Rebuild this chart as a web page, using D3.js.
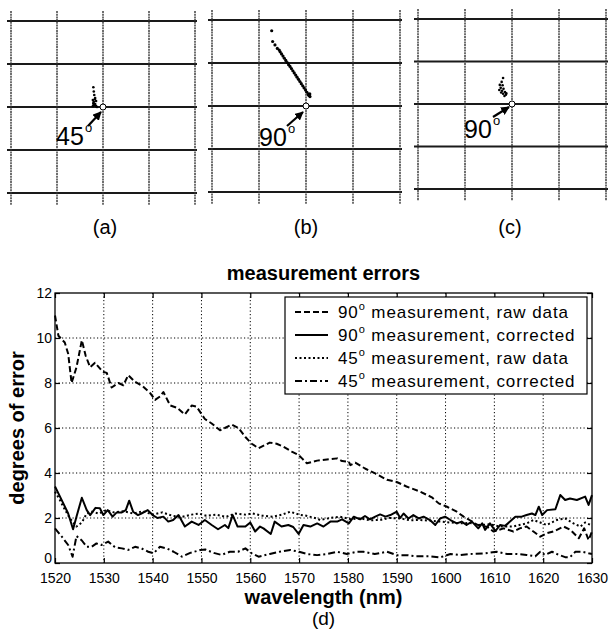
<!DOCTYPE html>
<html><head><meta charset="utf-8">
<script src="https://cdn.jsdelivr.net/npm/d3@7"></script>
<style>
body{margin:0;background:#fff}
svg{display:block}
text{font-family:"Liberation Sans",Arial,Helvetica,sans-serif;fill:#000}
</style>
</head><body>
<svg id="chart" width="611" height="630"></svg>
<script>
// ---------- data ----------
const xTicks = [1520,1530,1540,1550,1560,1570,1580,1590,1600,1610,1620,1630];
const yTicks = [0,2,4,6,8,10,12];

const raw90 = [[1520,11.0],[1520.7,10.1],[1522,9.8],[1522.7,9.3],[1523.4,8.0],[1524.4,8.7],[1525.5,9.9],[1526.3,9.2],[1527.2,8.7],[1528.2,8.9],[1529.8,8.5],[1530.6,8.45],[1531.6,7.8],[1533,8.0],[1534,7.9],[1535,8.35],[1536.4,8.05],[1538,7.85],[1539.5,7.55],[1540.5,7.25],[1541.5,7.4],[1542.2,7.6],[1543.6,7.0],[1545,6.9],[1546.6,6.6],[1548,7.0],[1549,6.95],[1550.7,6.4],[1552.1,6.2],[1553.8,5.9],[1554.8,6.0],[1556.2,6.15],[1557.6,6.0],[1559,5.6],[1560.3,5.3],[1561.7,5.1],[1564,5.35],[1565.4,5.3],[1566.8,5.17],[1568.5,4.95],[1569.9,4.8],[1570.6,4.65],[1571.6,4.43],[1573.7,4.55],[1575.7,4.6],[1577.8,4.65],[1578.8,4.53],[1580.2,4.5],[1580.5,4.35],[1581.5,4.46],[1583.5,4.2],[1585.6,3.98],[1588,3.7],[1590,3.6],[1592,3.4],[1594.8,3.17],[1597.2,2.92],[1598.6,2.65],[1600.3,2.5],[1602.3,2.28],[1603.7,2.06],[1605,1.9],[1606.5,1.7],[1608.6,1.6],[1609.8,1.4],[1611.9,1.54],[1613.9,1.4],[1615.2,1.54],[1616.6,1.62],[1618,1.4],[1619.4,1.17],[1620.7,1.32],[1622.1,1.4],[1624.2,1.62],[1625.6,1.47],[1627.3,1.1],[1628.4,1.54],[1629.3,1.02],[1630,1.4]];

const corr90 = [[1520,3.4],[1521.7,2.65],[1522.7,2.2],[1523.7,1.5],[1524.4,2.06],[1525.5,2.9],[1526.5,2.35],[1527.2,2.13],[1528.3,2.45],[1529.2,2.43],[1529.9,2.13],[1530.8,2.35],[1531.8,2.06],[1532.6,2.24],[1533.6,2.24],[1534.5,2.35],[1535.2,2.77],[1536,2.28],[1537,2.13],[1537.7,2.2],[1539,2.35],[1540,2.13],[1541,2.0],[1542.2,2.06],[1543.2,1.84],[1544.2,1.91],[1545.3,2.13],[1546.6,1.62],[1548,1.84],[1549.4,1.69],[1550.7,1.91],[1552.1,1.69],[1553.4,1.5],[1554.8,1.69],[1555.5,1.55],[1556.4,2.13],[1557.4,1.62],[1559,1.62],[1560,1.8],[1561,1.4],[1562,1.62],[1562.7,1.54],[1564.2,1.29],[1565,1.84],[1566.4,1.62],[1567.8,1.69],[1568.8,1.6],[1569.9,1.29],[1570.9,1.69],[1572.3,1.62],[1573.7,1.76],[1575,1.62],[1576.4,1.84],[1577.8,1.84],[1578.8,1.94],[1580.2,1.76],[1581.2,2.06],[1582.5,1.94],[1583.5,2.09],[1584.5,1.94],[1585.6,2.06],[1586.6,2.16],[1587.7,2.06],[1588.7,2.13],[1590,2.28],[1590.7,2.0],[1591.4,2.2],[1592.4,1.98],[1593.4,2.13],[1594.5,1.98],[1595.5,2.06],[1596.8,1.91],[1597.9,1.69],[1598.9,1.98],[1599.9,2.06],[1601,1.91],[1602.3,1.76],[1603.3,1.84],[1604.3,1.69],[1605.4,1.84],[1606.7,1.54],[1607.5,1.76],[1608.1,1.47],[1609.1,1.76],[1610.2,1.42],[1611.2,1.69],[1612.2,1.65],[1613.2,1.84],[1614.3,2.06],[1615.6,2.06],[1616.6,2.13],[1617.7,2.2],[1618.4,2.13],[1619.1,2.5],[1619.8,2.13],[1620.8,2.35],[1622.5,2.39],[1623.5,3.02],[1624.5,2.8],[1625.5,2.87],[1626.9,2.8],[1628.6,2.95],[1629.3,2.58],[1630,3.02]];

const raw45 = [[1520,3.17],[1521,2.8],[1521.7,2.5],[1523,2.0],[1524.4,1.62],[1525.5,1.8],[1526.5,2.2],[1527.5,2.28],[1529,2.2],[1530.5,2.35],[1532,2.25],[1534,2.3],[1536,2.2],[1538,2.3],[1540,2.15],[1542,2.25],[1544,2.1],[1546,2.05],[1548,2.15],[1549.5,2.2],[1551,2.1],[1553,2.15],[1555,2.05],[1557,2.2],[1559,2.15],[1560.5,2.2],[1562.5,2.1],[1564.6,2.06],[1566.5,2.15],[1568.2,2.28],[1570,2.15],[1571.5,2.1],[1573.6,1.98],[1574.3,1.91],[1576.3,2.0],[1578.4,2.06],[1580.5,1.95],[1582.5,1.98],[1584.5,1.9],[1586.6,1.91],[1588.5,2.0],[1590.7,1.98],[1592.7,1.9],[1594.8,1.91],[1597,1.88],[1598.9,1.84],[1601,1.8],[1603,1.76],[1605,1.78],[1607.1,1.69],[1609,1.72],[1611.2,1.62],[1613.9,1.62],[1615.3,1.7],[1616.6,1.76],[1618,1.91],[1619.4,1.8],[1620.7,1.69],[1622.8,1.91],[1624.5,1.98],[1626.2,1.76],[1627.6,1.62],[1628.6,1.8],[1629.6,1.7],[1630,1.75]];

const corr45 = [[1520,1.54],[1521.4,1.17],[1522.7,0.8],[1523.6,0.28],[1524.4,1.2],[1525.5,1.0],[1526.5,0.72],[1527.5,0.72],[1528.5,0.87],[1529.5,0.8],[1530.9,0.95],[1532.3,0.7],[1533.7,0.65],[1535,0.58],[1536.4,0.72],[1537.7,0.65],[1539.1,0.5],[1540.2,0.43],[1541.5,0.72],[1542.9,0.65],[1544.3,0.5],[1546,0.28],[1547.7,0.45],[1549.8,0.58],[1550.8,0.6],[1552.5,0.45],[1554.1,0.36],[1555.8,0.5],[1557.5,0.5],[1559,0.65],[1560.3,0.43],[1561.7,0.28],[1564,0.4],[1566,0.5],[1568.2,0.58],[1570,0.5],[1571.6,0.4],[1573.7,0.35],[1575.7,0.4],[1577.8,0.5],[1579.8,0.4],[1581.8,0.5],[1583.2,0.5],[1585.5,0.4],[1588,0.5],[1590,0.35],[1592,0.35],[1594,0.3],[1596.8,0.3],[1598.9,0.25],[1601,0.4],[1603,0.35],[1605,0.4],[1608,0.43],[1610.5,0.5],[1612.6,0.4],[1614.6,0.4],[1616.6,0.36],[1618.4,0.3],[1619.4,0.5],[1620.4,0.36],[1621.8,0.5],[1623.2,0.36],[1624.5,0.26],[1625.5,0.26],[1626.6,0.5],[1628,0.5],[1629.3,0.43],[1630,0.4]];

const legendDeg = ["90","90","45","45"];
const legendText = [" measurement, raw data"," measurement, corrected"," measurement, raw data"," measurement, corrected"];

// scatter points of panels (a),(b),(c) in grid-cell units, origin at the open circle, y up
const ptsA = [[-0.21,0.46],[-0.2,0.36],[-0.19,0.28],[-0.22,0.16],[-0.17,0.21],[-0.2,0.12],[-0.15,0.14],[-0.21,0.09],[-0.17,0.07],[-0.15,0.02],[-0.22,0.02],[-0.19,0.04],[-0.13,0.0],[-0.18,0.18],[-0.2,0.06]];
const ptsB = [[-0.73,1.75],[-0.71,1.5],[-0.66,1.42],[-0.61,1.34],[-0.55,1.26],[-0.52,1.21],[-0.49,1.16],[-0.46,1.11],[-0.43,1.06],[-0.40,1.01],[-0.37,0.96],[-0.34,0.92],[-0.31,0.87],[-0.28,0.82],[-0.25,0.77],[-0.22,0.72],[-0.19,0.67],[-0.16,0.62],[-0.13,0.57],[-0.10,0.52],[-0.07,0.47],[-0.04,0.42],[-0.01,0.37],[0.02,0.32],[0.05,0.27],[0.07,0.24],[0.085,0.22],[0.06,0.25],[0.08,0.28],[-0.57,1.3]];
const ptsC = [[-0.19,0.61],[-0.22,0.52],[-0.26,0.45],[-0.2,0.44],[-0.24,0.38],[-0.18,0.36],[-0.27,0.33],[-0.21,0.31],[-0.15,0.28],[-0.19,0.24],[-0.13,0.22],[-0.16,0.19],[-0.23,0.27],[-0.12,0.25]];
const panelLabels = ["(a)","(b)","(c)"];
const panelAngles = ["45","90","90"];
const gridUnits = [-2,-1,0,1,2];

// ---------- drawing ----------
const svg = d3.select("#chart");

// top panels
const panels = [
  {pts:ptsA, cx:103, cy:107, cw:46, ch:43, lab:[105,234], txt:[-47,38], arr:[[-15,19],[-2,5]], r:1.3},
  {pts:ptsB, cx:306, cy:106, cw:47, ch:43, lab:[306,234], txt:[-47,40], arr:[[-19,20],[-3,6]], r:1.6},
  {pts:ptsC, cx:512, cy:104, cw:47, ch:42.5, lab:[510,234], txt:[-48,34], arr:[[-19,13],[-3,3]], r:1.3}
];
const defs = svg.append("defs");
defs.append("marker").attr("id","ah").attr("viewBox","0 0 10 10").attr("refX",9).attr("refY",5)
  .attr("markerWidth",4).attr("markerHeight",4).attr("orient","auto")
  .append("path").attr("d","M0,0L10,5L0,10z").attr("fill","#000");

panels.forEach((p,i)=>{
  const sx = d3.scaleLinear([-1,1],[p.cx-p.cw,p.cx+p.cw]);
  const sy = d3.scaleLinear([-1,1],[p.cy+p.ch,p.cy-p.ch]);
  const g = svg.append("g");
  g.selectAll("line.h").data(gridUnits).join("line")
    .attr("x1",sx(-2)-4).attr("x2",sx(2)+2).attr("y1",d=>sy(d)).attr("y2",d=>sy(d))
    .attr("stroke","#1a1a1a").attr("stroke-width",1.8);
  g.selectAll("line.v").data(gridUnits).join("line")
    .attr("y1",sy(2)-10).attr("y2",sy(-2)+12).attr("x1",d=>sx(d)).attr("x2",d=>sx(d))
    .attr("stroke","#333").attr("stroke-width",1.4).attr("stroke-dasharray","2,0.7");
  g.selectAll("circle.p").data(p.pts).join("circle")
    .attr("cx",d=>sx(d[0])).attr("cy",d=>sy(d[1])).attr("r",p.r).attr("fill","#000");
  g.append("circle").attr("cx",sx(0)).attr("cy",sy(0)).attr("r",3)
    .attr("fill","#fff").attr("stroke","#000").attr("stroke-width",1);
  g.append("line")
    .attr("x1",p.cx+p.arr[0][0]).attr("y1",p.cy+p.arr[0][1])
    .attr("x2",p.cx+p.arr[1][0]).attr("y2",p.cy+p.arr[1][1])
    .attr("stroke","#000").attr("stroke-width",2.2).attr("marker-end","url(#ah)");
  const tx = p.cx+p.txt[0], ty = p.cy+p.txt[1];
  g.append("text").attr("x",tx).attr("y",ty).style("font-size","25px").text(panelAngles[i]);
  g.append("text").attr("x",tx+29).attr("y",ty-13).style("font-size","13px").text("o");
  svg.append("text").attr("x",p.lab[0]).attr("y",p.lab[1]).attr("text-anchor","middle")
    .style("font-size","20px").text(panelLabels[i]);
});

// main chart
const L=55, R=592, T=293, B=563;
const x = d3.scaleLinear([1520,1630],[L,R]);
const y = d3.scaleLinear([0,12],[B,T]);

const grid = svg.append("g");
grid.selectAll("line.gx").data(xTicks.slice(1,-1)).join("line")
  .attr("x1",d=>x(d)).attr("x2",d=>x(d)).attr("y1",T).attr("y2",B)
  .attr("stroke","#000").attr("stroke-width",1).attr("stroke-dasharray","1.2,2.3");
grid.selectAll("line.gy").data(yTicks.slice(1,-1)).join("line")
  .attr("y1",d=>y(d)).attr("y2",d=>y(d)).attr("x1",L).attr("x2",R)
  .attr("stroke","#000").attr("stroke-width",1).attr("stroke-dasharray","1.2,2.3");

// axes with inward ticks
const fmt = d3.format("d");
const xa = svg.append("g").attr("transform",`translate(0,${B})`)
  .call(d3.axisBottom(x).tickValues(xTicks).tickFormat(fmt).tickSizeInner(-5).tickSizeOuter(0).tickPadding(10));
const xt = svg.append("g").attr("transform",`translate(0,${T})`)
  .call(d3.axisTop(x).tickValues(xTicks).tickFormat("").tickSizeInner(-5).tickSizeOuter(0));
const ya = svg.append("g").attr("transform",`translate(${L},0)`)
  .call(d3.axisLeft(y).tickValues(yTicks).tickFormat(fmt).tickSizeInner(-5).tickSizeOuter(0).tickPadding(3));
const yr = svg.append("g").attr("transform",`translate(${R},0)`)
  .call(d3.axisRight(y).tickValues(yTicks).tickFormat("").tickSizeInner(-5).tickSizeOuter(0));
[xa,xt,ya,yr].forEach(a=>{
  a.select(".domain").remove();
  a.selectAll("line").attr("stroke","#000").attr("stroke-width",1.2);
  a.selectAll("text").style("font-size","14px").style("font-family","'Liberation Sans',Arial,sans-serif").attr("fill","#000");
});
// lift the "0" label a little so it clears "1520"
ya.selectAll(".tick").filter(d=>d===0).select("text").attr("dy","-0.05em");
svg.append("rect").attr("x",L).attr("y",T).attr("width",R-L).attr("height",B-T)
  .attr("fill","none").attr("stroke","#000").attr("stroke-width",1.3);

// series
const line = d3.line().x(d=>x(d[0])).y(d=>y(d[1]));
const series = [
  {d:raw90, dash:"6,3"},
  {d:corr90, dash:null},
  {d:raw45, dash:"2,2.5"},
  {d:corr45, dash:"7,3,2,3"}
];
series.forEach(s=>{
  svg.append("path").datum(s.d).attr("d",line).attr("fill","none")
    .attr("stroke","#000").attr("stroke-width",2).attr("stroke-linejoin","round")
    .attr("stroke-dasharray",s.dash);
});

// legend
const lg = svg.append("g");
lg.append("rect").attr("x",285).attr("y",297).attr("width",302).attr("height",97)
  .attr("fill","#fff").attr("stroke","#000").attr("stroke-width",1.2);
series.forEach((s,i)=>{
  const yy = 312 + i*23;
  lg.append("line").attr("x1",295).attr("x2",328).attr("y1",yy).attr("y2",yy)
    .attr("stroke","#000").attr("stroke-width",2).attr("stroke-dasharray",s.dash);
  const t = lg.append("text").attr("x",338).attr("y",yy+6).style("font-size","17px")
    .style("letter-spacing","0.9px");
  t.append("tspan").text(legendDeg[i]);
  t.append("tspan").text("o").style("font-size","11px").attr("dy",-8);
  t.append("tspan").text(legendText[i]).attr("dy",8);
});

// titles
svg.append("text").attr("x",(L+R)/2).attr("y",280).attr("text-anchor","middle")
  .style("font-size","20px").style("font-weight","bold").text("measurement errors");
svg.append("text").attr("x",(L+R)/2).attr("y",604).attr("text-anchor","middle")
  .style("font-size","20px").style("font-weight","bold").text("wavelength (nm)");
svg.append("text").attr("transform",`translate(24,${(T+B)/2}) rotate(-90)`).attr("text-anchor","middle")
  .style("font-size","20px").style("font-weight","bold").text("degrees of error");
svg.append("text").attr("x",(L+R)/2).attr("y",625).attr("text-anchor","middle")
  .style("font-size","19px").text("(d)");
</script>
</body></html>
